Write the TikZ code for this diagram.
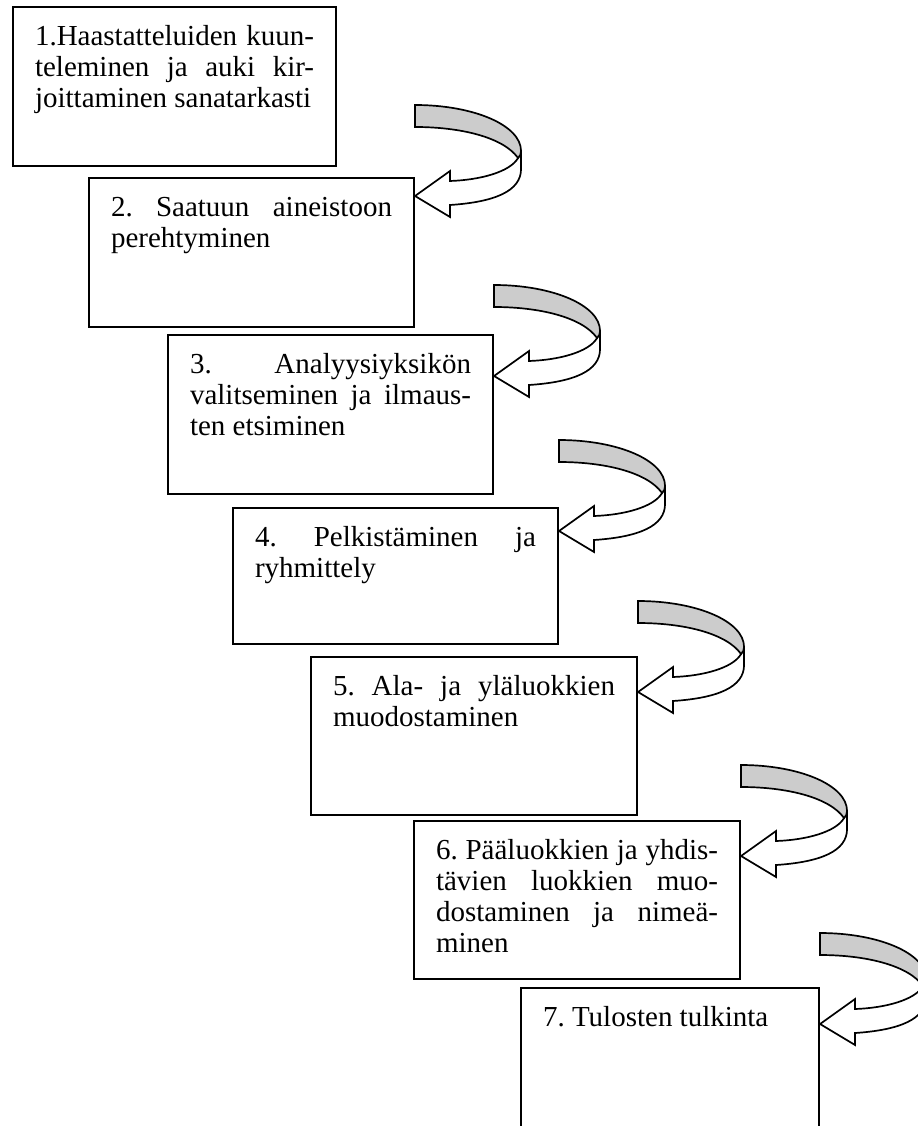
\documentclass[tikz,border=0pt]{standalone}
\usepackage{fontspec}
\setmainfont{Liberation Serif}
\definecolor{bandgray}{RGB}{204,204,204}
\newdimen\pxunit \pxunit=0.41379pt
\newcommand{\stagetext}[3]{\parbox[t][#1\pxunit][t]{#2\pxunit}{\hyphenpenalty=10000\exhyphenpenalty=10000\frenchspacing\strut#3}}
\tikzset{stage/.style={draw,line width=.85pt,anchor=north west,inner xsep=9.1pt,inner ysep=7.03pt,
  font=\fontsize{12}{12.83}\selectfont},
 bendarrow/.pic={
  \filldraw[fill=white,line width=.7pt] (103,53) .. controls (95,67) and (65,75) .. (35,76) -- (35,66) -- (0,91) -- (35,112) -- (35,100) .. controls (80,97) and (106,86) .. (106,64) -- (106,48) -- cycle;
  \filldraw[fill=bandgray,line width=.7pt] (0,0) .. controls (58,0) and (106,20) .. (106,46) .. controls (106,49) and (105,51) .. (103,53) .. controls (88,32) and (45,22) .. (0,22) -- cycle;
 }}

\begin{document}
\begin{tikzpicture}[x=0.41379pt,y=-0.41379pt]
\useasboundingbox (0,0) rectangle (917,1126);
% the seven stages
\node[stage] (b1) at (12,6) {\stagetext{125}{279}{1.Haastatteluiden kuun-\linebreak teleminen ja auki kir-\linebreak joittaminen sanatarkasti}};
\node[stage] (b2) at (88,177) {\stagetext{115}{281}{2. Saatuun aineistoon\linebreak perehtyminen}};
\node[stage] (b3) at (167,334) {\stagetext{125}{281}{3. Analyysiyksikön\linebreak valitseminen ja ilmaus-\linebreak ten etsiminen}};
\node[stage] (b4) at (232,507) {\stagetext{102}{281}{4. Pelkistäminen ja\linebreak ryhmittely}};
\node[stage] (b5) at (310,656) {\stagetext{124}{282}{5. Ala- ja yläluokkien\linebreak muodostaminen}};
\node[stage] (b6) at (413,820) {\stagetext{124}{282}{6. Pääluokkien ja yhdis-\linebreak tävien luokkien muo-\linebreak dostaminen ja nimeä-\linebreak minen}};
\node[stage] (b7) at (520,987) {\stagetext{126}{254}{7. Tulosten tulkinta}};
% curved arrows between them
\pic at (b2.north east |- 0,105) {bendarrow};
\pic at (b3.north east |- 0,285) {bendarrow};
\pic at (b4.north east |- 0,440) {bendarrow};
\pic at (b5.north east |- 0,601) {bendarrow};
\pic at (b6.north east |- 0,765) {bendarrow};
\pic at (b7.north east |- 0,933) {bendarrow};
\end{tikzpicture}
\end{document}
